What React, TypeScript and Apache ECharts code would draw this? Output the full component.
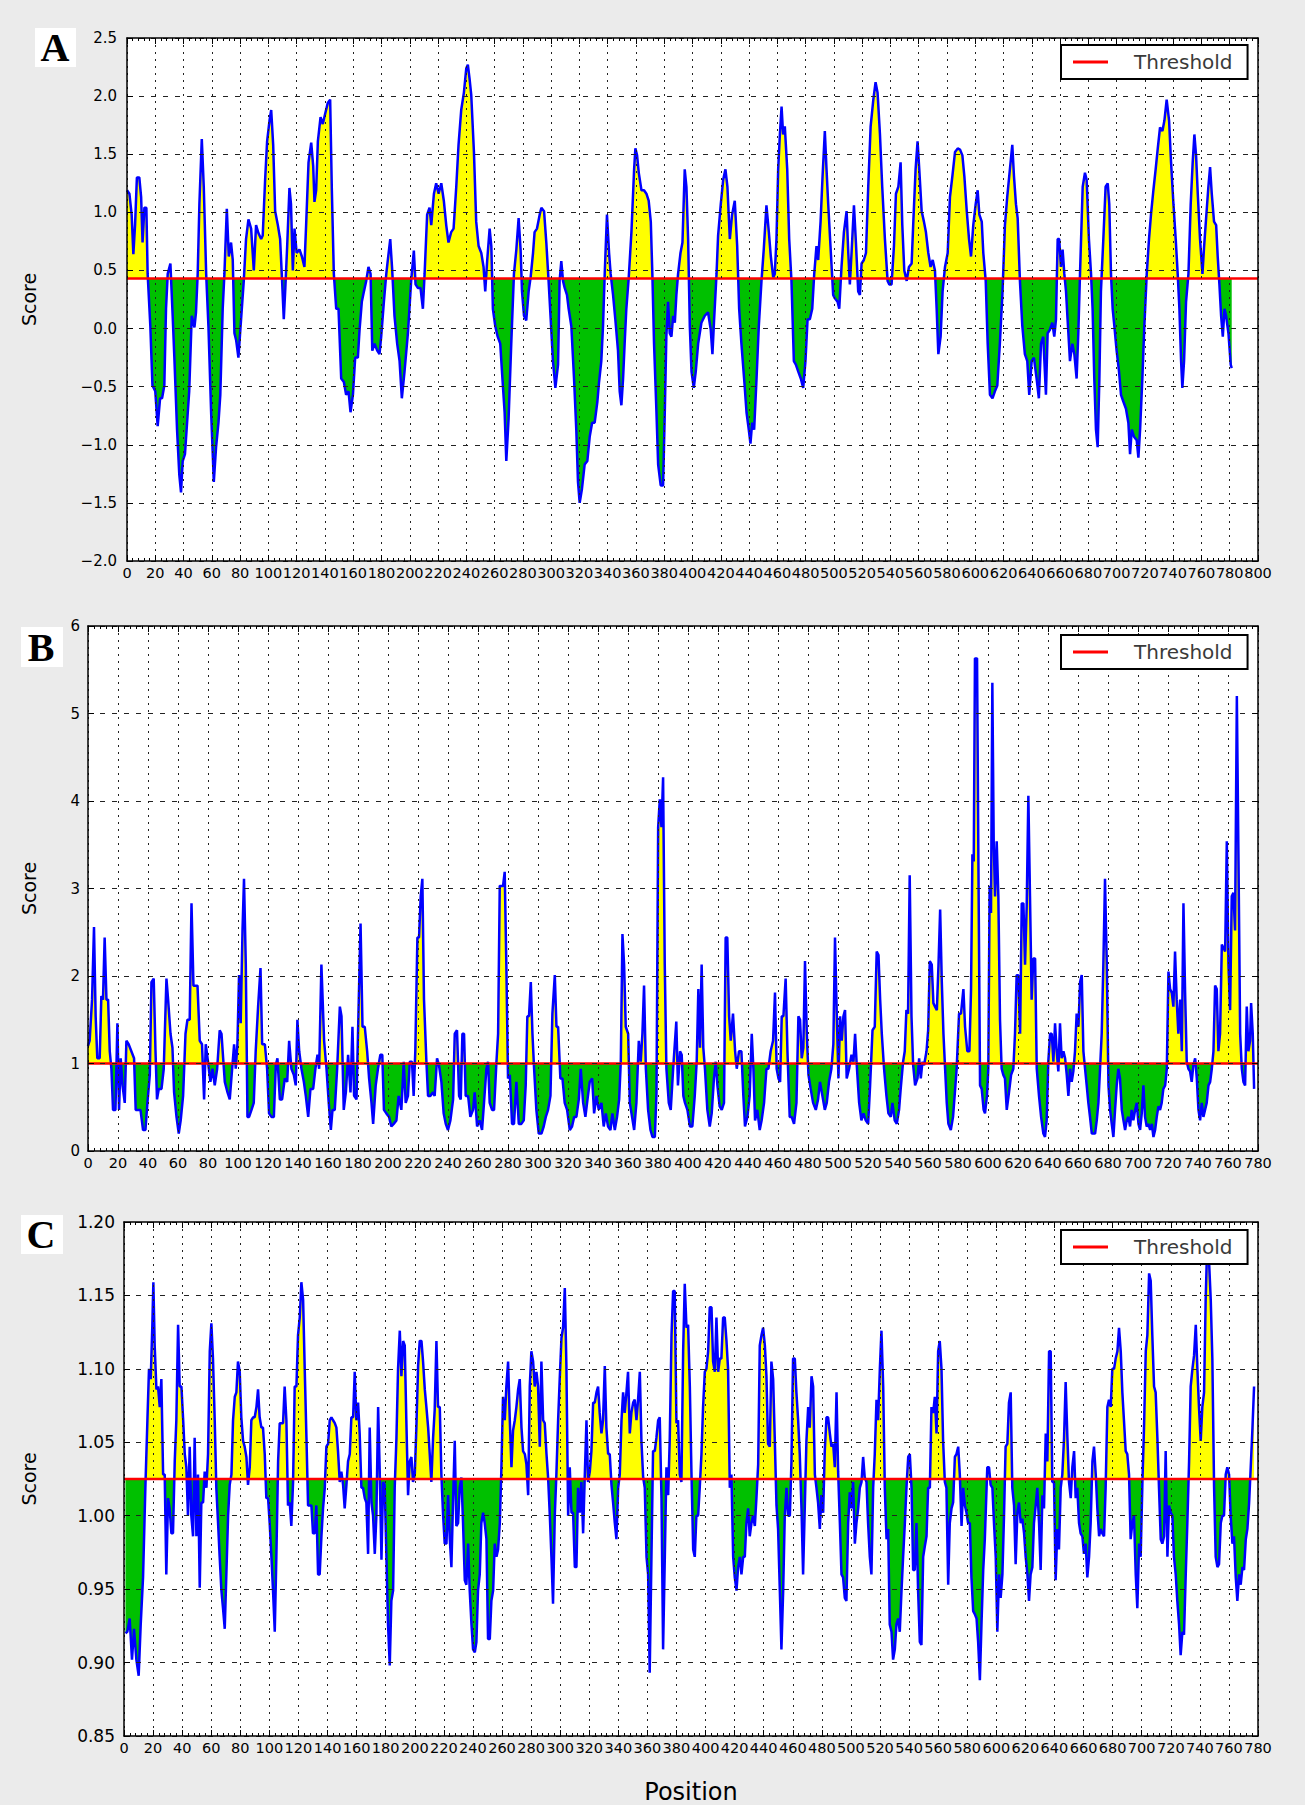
import React, { useEffect, useRef } from "react";
import * as echarts from "echarts";

// ---------- data ----------
const thresholdA = 0.43;
const thresholdB = 1.0;
const thresholdC = 1.025;

// [position, score]
const scoresA: number[][] = [
[0,1.19],[1.7,1.16],[3.3,0.98],[4.5,0.64],[5.7,0.89],[7,1.30],[8.7,1.30],[10,1.13],[11,0.74],[12.3,1.04],[13.7,1.04],[14.6,0.47],[16.5,0.02],[18,-0.49],[20,-0.54],[21.7,-0.84],[23.4,-0.60],[24.8,-0.60],[26.4,-0.49],[27.6,0.17],[28.8,0.47],[30.7,0.56],[32.3,0.11],[33.5,-0.25],[35.4,-0.87],[37,-1.26],[38.2,-1.41],[39.4,-1.14],[41,-1.08],[43,-0.72],[44,-0.54],[45.8,0.11],[47.7,0.01],[48.8,0.14],[50,0.47],[51.2,1.07],[52.9,1.63],[54.3,1.22],[56,0.47],[57.6,0.02],[59.5,-0.72],[61.4,-1.32],[63,-1.02],[64.7,-0.81],[66,-0.57],[67.7,0.17],[68.9,0.47],[70.6,1.03],[72,0.62],[73.6,0.74],[74.8,0.59],[76,-0.04],[77.2,-0.10],[78.8,-0.25],[80.7,0.08],[82.6,0.41],[84.2,0.77],[85.9,0.94],[87.8,0.86],[89.7,0.50],[91.3,0.89],[93,0.82],[94.9,0.77],[96,0.80],[97.7,1.28],[99.1,1.61],[100.8,1.79],[102,1.88],[103.4,1.58],[104.8,1.01],[106.7,0.89],[108.3,0.77],[109.7,0.41],[110.9,0.08],[112,0.35],[113.3,0.71],[114.9,1.21],[116,1.07],[117.3,0.50],[118.5,0.86],[120,0.65],[122,0.68],[123.7,0.62],[125.5,0.53],[126.7,0.89],[128.4,1.43],[130.3,1.60],[131.7,1.40],[132.6,1.09],[133.8,1.19],[135,1.61],[136.9,1.82],[138.5,1.76],[140.2,1.85],[142,1.94],[143.7,1.97],[144.9,1.19],[146.3,0.47],[148,0.17],[149.6,0.17],[151.5,-0.43],[153.4,-0.46],[155,-0.57],[156.7,-0.54],[158.1,-0.72],[159.8,-0.57],[161.4,-0.25],[163.3,-0.25],[164.5,-0.01],[166.1,0.23],[167.6,0.32],[169.2,0.41],[170.8,0.53],[172.3,0.47],[173.5,-0.19],[175.1,-0.13],[177,-0.19],[178.6,-0.22],[179.8,-0.07],[181.7,0.23],[183.4,0.47],[184.5,0.59],[186.2,0.77],[187.6,0.50],[189.2,0.11],[191.1,-0.13],[192.8,-0.28],[194.4,-0.60],[196.3,-0.37],[198.7,-0.04],[201,0.41],[202.9,0.67],[204.1,0.38],[205.7,0.35],[207.6,0.35],[209.3,0.17],[210.5,0.47],[212.3,0.98],[214,1.04],[215.2,0.89],[217.1,1.16],[218.7,1.25],[220.4,1.16],[222.3,1.25],[224.1,1.10],[225.8,0.89],[227.4,0.74],[229.3,0.83],[231,0.86],[232.9,1.22],[234.5,1.58],[236.4,1.88],[238.3,2.03],[240,2.24],[241.1,2.27],[242.3,2.15],[243.5,2.01],[245.4,1.52],[247,0.92],[248.7,0.71],[250.6,0.65],[252.2,0.53],[253.4,0.32],[254.8,0.59],[256.5,0.86],[257.7,0.71],[258.8,0.17],[260.5,0.02],[262.2,-0.07],[264,-0.13],[265.4,-0.40],[267.1,-0.72],[268.3,-1.14],[269.9,-0.78],[271.8,-0.13],[273.7,0.47],[275.4,0.68],[277,0.95],[278.4,0.68],[279.4,0.32],[280.8,0.11],[282.4,0.07],[284.1,0.32],[285.5,0.44],[287.2,0.65],[288.3,0.83],[290,0.86],[291.9,0.98],[293.1,1.04],[295,1.01],[296.6,0.74],[298.2,0.41],[299.7,0.08],[301.3,-0.28],[303,-0.51],[304.9,-0.31],[306,0.41],[307.2,0.58],[308.4,0.41],[309.6,0.35],[311.2,0.29],[312.4,0.17],[314.3,0.02],[316.2,-0.43],[317.8,-0.87],[319,-1.32],[320.2,-1.50],[321.8,-1.38],[323.7,-1.17],[325.6,-1.14],[327.3,-0.93],[329,-0.81],[330.8,-0.81],[332.7,-0.63],[333.9,-0.46],[335.5,-0.28],[336.7,0.02],[337.9,0.47],[339.5,0.98],[341,0.65],[342.1,0.47],[343.8,0.29],[345.4,0.08],[347.3,-0.19],[348.5,-0.54],[349.7,-0.66],[350.9,-0.43],[352,-0.13],[353.2,0.17],[354.9,0.44],[356.8,0.83],[358.7,1.37],[359.6,1.55],[360.8,1.49],[362,1.34],[363.9,1.19],[365.7,1.19],[367.4,1.16],[369,1.10],[370.5,0.92],[371.6,0.47],[372.8,-0.13],[374.5,-0.72],[375.7,-1.17],[377.5,-1.35],[379.2,-1.35],[380.4,-0.72],[381.5,-0.07],[382.7,0.23],[383.9,-0.04],[385.1,-0.07],[386.3,0.11],[387.5,0.05],[388.6,0.29],[389.8,0.47],[391.5,0.65],[392.9,0.74],[394.5,1.37],[395.7,1.22],[396.9,0.77],[398.1,0.02],[399.3,-0.37],[400.9,-0.51],[402.3,-0.37],[404,-0.13],[406.3,0.05],[408.7,0.11],[411,0.14],[412.9,-0.01],[414.1,-0.22],[415.3,0.08],[417,0.47],[418.1,0.80],[420,1.07],[421.7,1.28],[423.3,1.37],[424.7,1.22],[426.4,0.77],[428,0.98],[429.9,1.10],[431.6,0.71],[433,0.17],[434.6,-0.13],[436.5,-0.43],[438.2,-0.72],[439.8,-0.87],[441,-0.99],[442.2,-0.81],[443.6,-0.87],[445.3,-0.43],[446.9,0.02],[448.8,0.41],[450.4,0.68],[452.3,1.06],[454,0.83],[455.4,0.62],[457.1,0.44],[458.2,0.47],[459.4,0.77],[460.6,1.37],[461.8,1.67],[463,1.91],[464.1,1.67],[465.3,1.74],[467,1.37],[468.4,0.77],[470,0.41],[471.7,-0.28],[473.1,-0.31],[474.8,-0.37],[476.6,-0.43],[478.3,-0.51],[479.9,-0.28],[481.4,0.08],[483,0.08],[484.7,0.17],[486.1,0.47],[487.7,0.71],[488.9,0.59],[490.6,0.92],[492,1.31],[493.6,1.70],[494.8,1.37],[496,1.07],[497.6,0.71],[499.5,0.29],[500.7,0.26],[502.6,0.23],[503.8,0.17],[505.4,0.53],[507.1,0.83],[509,1.01],[510.2,0.65],[511.3,0.38],[512.5,0.65],[514.2,1.06],[515.6,0.74],[517.2,0.32],[518.4,0.29],[519.6,0.56],[521.2,0.59],[522.7,0.65],[524.3,1.22],[526,1.74],[527.9,1.97],[529.5,2.12],[530.9,2.03],[532.6,1.67],[534.2,1.22],[536.1,0.77],[538,0.41],[539.2,0.38],[540.8,0.38],[542.5,0.71],[543.9,1.16],[545.6,1.22],[547.2,1.43],[548.4,0.89],[549.8,0.50],[551.5,0.41],[553.1,0.53],[555,0.56],[556.2,0.92],[557.8,1.37],[559.2,1.61],[560.4,1.37],[562.1,1.01],[563.7,0.92],[565.1,0.83],[566.8,0.65],[568.4,0.53],[569.9,0.59],[571.5,0.50],[572.7,0.17],[573.9,-0.22],[575.5,-0.07],[576.9,0.32],[578.6,0.53],[580.5,0.65],[582.1,1.13],[583.8,1.31],[585.7,1.52],[587.6,1.55],[589.2,1.54],[590.9,1.49],[592.3,1.31],[594,1.01],[595.6,0.77],[597,0.62],[598.6,0.89],[600.3,1.07],[601.7,1.19],[602.9,0.98],[604.6,0.92],[605.7,0.65],[607.4,0.41],[608.8,-0.13],[610.4,-0.57],[612.2,-0.60],[613.9,-0.54],[615.6,-0.49],[617.4,-0.13],[619.3,0.32],[621,0.89],[622.6,1.13],[624.5,1.37],[626.2,1.58],[627.4,1.31],[628.8,1.07],[630,0.95],[631.6,0.41],[633.3,0.02],[635.1,-0.22],[636.8,-0.28],[638.2,-0.57],[639.9,-0.28],[641.5,-0.25],[643.4,-0.43],[645,-0.60],[646.5,-0.13],[648.1,-0.07],[650,-0.57],[651.2,-0.04],[652.8,-0.01],[654.5,0.05],[655.9,-0.07],[657.1,0.08],[658.3,0.77],[659.4,0.77],[660.6,0.53],[661.8,0.68],[663,0.47],[664.2,0.32],[665.3,0.08],[667,-0.28],[668.7,-0.13],[670.1,-0.22],[671.7,-0.43],[672.9,-0.04],[674.1,0.47],[676,1.22],[677.6,1.34],[678.8,1.28],[680.4,0.77],[681.9,0.47],[683,0.17],[684.2,-0.43],[685.4,-0.87],[686.6,-1.02],[687.8,-0.43],[688.9,0.32],[690.6,0.77],[692.2,1.22],[693.7,1.25],[694.8,1.07],[696,0.47],[697.2,0.17],[698.4,0.02],[700,-0.19],[701.7,-0.37],[703.1,-0.57],[704.8,-0.63],[706.6,-0.69],[708.3,-0.81],[709.5,-1.08],[710.7,-0.87],[712.3,-0.93],[714.2,-0.96],[715.4,-1.11],[716.6,-0.87],[718.2,-0.43],[719.6,0.02],[721.3,0.47],[722.9,0.77],[724.3,0.98],[726,1.19],[727.6,1.37],[729.1,1.55],[730.7,1.73],[732.4,1.70],[733.8,1.79],[735.4,1.97],[737.1,1.79],[738.5,1.43],[740.2,1.07],[741.8,0.77],[743.2,0.47],[744.4,0.17],[745.6,-0.28],[746.5,-0.51],[747.7,-0.28],[749.1,0.23],[750.8,0.47],[752.4,1.07],[753.8,1.43],[755,1.67],[756.2,1.49],[757.4,1.16],[759,0.77],[760.7,0.47],[761.9,0.71],[763.3,0.95],[764.9,1.22],[766.1,1.39],[767.3,1.16],[768.9,0.92],[770.4,0.89],[771.5,0.62],[772.7,0.38],[773.9,0.11],[775.1,-0.07],[776.3,0.17],[777.4,0.11],[779.1,-0.04],[780.7,-0.31],[781.4,-0.34]
];

const scoresB: number[][] = [
[0,1.2],[1.1,1.26],[2.7,1.73],[4,2.56],[5.1,1.54],[6.2,1.06],[7.8,1.06],[8.9,1.77],[10,1.73],[11.1,2.44],[12.3,1.73],[13.4,1.73],[14.5,1.14],[15.6,0.94],[16.7,0.47],[18.3,0.47],[19.6,1.46],[20.7,0.47],[21.8,1.06],[23,0.75],[24.5,0.55],[25.6,1.26],[27.1,1.22],[28.9,1.14],[30.7,1.06],[31.8,0.47],[33.4,0.47],[35,0.47],[36.7,0.24],[38.3,0.24],[39.6,0.55],[41.2,0.87],[42.3,1.93],[43.8,1.97],[45,1.14],[46,0.59],[47.2,0.71],[49,0.71],[50.5,0.94],[52.3,1.97],[53.4,1.73],[55,1.34],[56.3,1.18],[57.4,0.67],[59,0.39],[60.5,0.20],[61.8,0.35],[63.4,0.63],[65,1.34],[66.3,1.50],[67.8,1.50],[69,2.83],[70.3,1.89],[71.8,1.89],[73,1.89],[74.5,1.26],[76,1.22],[77.4,0.59],[78.5,1.22],[80,1.02],[81.6,0.79],[83,0.94],[84.5,0.75],[86.1,0.94],[87.8,1.38],[89,1.34],[90.1,1.06],[91.2,0.79],[93,0.67],[94.5,0.59],[96.1,0.94],[97.4,1.22],[98.5,0.94],[99.6,1.22],[100.7,2.01],[101.8,1.46],[103,2.52],[104,3.11],[105.2,2.13],[106.3,0.39],[107.4,0.39],[109,0.47],[110.5,0.55],[111.8,1.14],[113.4,1.65],[115,2.09],[116.1,1.22],[117.9,1.22],[119.4,0.94],[120.7,0.43],[122.3,0.39],[123.9,0.39],[125.2,0.98],[126.3,1.06],[127.9,0.59],[129.4,0.59],[131.2,0.83],[132.8,0.79],[134.1,1.26],[135.6,0.94],[137.2,0.87],[138.5,0.75],[139.6,1.50],[140.8,1.14],[142.3,0.94],[143.9,0.79],[145.2,0.63],[146.8,0.39],[148.3,0.71],[150.1,0.71],[151.6,0.94],[153,1.10],[154.1,0.94],[155.6,2.13],[157.4,1.26],[159,0.94],[160.5,0.55],[161.9,0.24],[163,0.47],[164.5,0.47],[166.1,0.94],[167.9,1.65],[169,1.54],[170.5,0.47],[171.9,0.67],[173.4,1.10],[175,0.67],[176.3,1.42],[177.4,0.63],[179,0.59],[180.1,1.42],[181.7,2.60],[183,1.42],[184.5,1.42],[186.1,1.14],[187.4,0.83],[189,0.55],[190.1,0.31],[191.8,0.75],[193.3,0.94],[194.9,1.10],[196.2,1.10],[197.3,0.47],[198.9,0.43],[200.7,0.39],[202.2,0.28],[203.8,0.31],[205.6,0.35],[207.1,0.63],[208.9,0.47],[210.5,1.02],[211.8,0.55],[213.3,0.63],[214.5,1.02],[216,1.02],[217.1,0.63],[218.2,1.14],[219.6,2.44],[220.7,2.44],[221.8,2.91],[222.9,3.11],[224,1.73],[225.6,1.02],[226.7,0.63],[228.2,0.63],[230,0.67],[231.1,0.63],[232.7,1.06],[234,0.98],[235.6,0.79],[237.1,0.43],[238.5,0.31],[240,0.24],[241.6,0.35],[243.4,0.59],[244.5,1.34],[246,1.38],[247.4,0.63],[248.5,0.59],[249.6,1.34],[250.7,1.34],[251.8,0.63],[253.4,0.63],[254.9,0.39],[256.7,0.47],[257.8,0.67],[259.4,0.28],[261.1,0.35],[262.7,0.24],[264,0.55],[265.6,0.94],[266.7,1.02],[267.8,0.55],[269.4,0.47],[270.7,0.47],[272.3,1.02],[273.4,1.34],[274.5,3.03],[275.6,3.03],[276.7,3.03],[277.8,3.19],[278.9,2.13],[280,0.83],[281.2,0.87],[282.7,0.31],[284,0.31],[285.6,0.79],[287.2,0.31],[288.9,0.31],[290.5,0.35],[291.8,0.75],[292.9,1.54],[294,1.54],[295.2,1.93],[296.3,1.34],[297.4,0.94],[298.9,0.47],[300.5,0.20],[302.3,0.20],[303.8,0.28],[305.2,0.39],[306.7,0.47],[308.3,0.63],[309.6,1.57],[311.2,2.01],[312.3,1.42],[313.4,1.42],[314.9,0.83],[316.3,0.83],[317.8,0.55],[319.4,0.47],[321.2,0.24],[322.7,0.28],[324.1,0.39],[325.6,0.39],[327.2,0.59],[328.5,0.94],[330.1,0.55],[331.6,0.39],[333,0.59],[334.5,0.79],[336.1,0.83],[337.4,0.43],[339,0.63],[340.5,0.47],[342.3,0.55],[343.8,0.28],[345.2,0.43],[346.7,0.28],[348.3,0.24],[349.6,0.43],[351.2,0.24],[352.7,0.39],[354.1,0.59],[355.2,1.02],[356.3,2.48],[357.4,2.13],[358.5,1.42],[360.1,1.34],[361.2,0.55],[362.7,0.39],[364.1,0.24],[365.6,0.55],[367.2,1.26],[368.5,1.02],[369.6,1.34],[370.7,1.89],[371.9,0.94],[373.4,0.47],[375,0.24],[376.3,0.16],[377.9,0.16],[379,0.67],[380.1,3.70],[381.2,4.02],[382.3,3.70],[383.4,4.27],[384.5,2.13],[385.6,0.94],[387.2,0.55],[388.5,0.47],[390.1,0.94],[392.2,1.48],[393.3,0.75],[394.7,1.14],[395.8,1.10],[396.9,0.63],[398,0.55],[399.6,0.47],[401.3,0.28],[402.9,0.28],[404.5,0.63],[405.8,1.02],[406.9,1.85],[408,1.18],[409.1,2.13],[410.2,1.18],[411.3,0.94],[412.9,0.47],[414.5,0.28],[415.8,0.43],[417.3,0.83],[418.5,1.02],[419.6,0.75],[421.1,0.51],[422.5,0.47],[424,0.55],[425.1,2.44],[426.2,2.44],[427.4,1.54],[428.5,1.26],[430,1.57],[431.4,1.14],[432.5,0.94],[434,1.14],[435.6,1.14],[436.9,0.63],[438,0.28],[439.6,0.39],[441.1,0.63],[442.5,1.34],[443.6,0.94],[444.7,0.35],[446.2,0.47],[447.8,0.24],[449.1,0.35],[450.7,0.55],[452.3,0.94],[453.6,0.94],[455.1,1.14],[456.7,1.26],[458,1.81],[459.1,0.94],[460.3,0.83],[461.4,0.79],[462.5,1.54],[463.6,1.54],[465.1,1.97],[466.3,1.14],[467.8,0.39],[469.1,0.39],[470.7,0.31],[472.3,0.55],[473.6,1.54],[474.7,1.50],[475.8,1.06],[476.9,1.18],[478,2.17],[479.2,1.34],[480.3,0.87],[481.8,0.71],[483.4,0.55],[485.2,0.47],[486.7,0.59],[488,0.79],[489.6,0.63],[491.2,0.47],[492.5,0.55],[494,0.79],[495.6,0.94],[496.9,1.22],[498,2.44],[499.2,1.54],[500.3,0.83],[501.4,1.54],[502.5,1.26],[503.6,1.54],[504.7,1.61],[505.8,0.83],[507.4,0.94],[509,1.10],[510.3,1.02],[511.4,1.34],[512.5,0.98],[514.1,0.55],[515.6,0.35],[517,0.43],[518.5,0.35],[520.1,0.31],[521.4,0.75],[523,1.38],[524.5,1.42],[525.8,2.28],[527,2.24],[528.1,1.73],[529.2,1.34],[530.7,0.94],[532.3,0.63],[533.6,0.43],[535.2,0.39],[536.3,0.55],[537.8,0.35],[539.2,0.31],[540.7,0.47],[541.8,0.71],[543.4,1.02],[544.5,1.14],[545.6,1.61],[546.7,1.57],[547.8,3.15],[549,1.54],[550.1,0.98],[551.4,0.75],[553,0.83],[554.1,1.06],[555.2,0.83],[556.3,1.02],[557.4,0.98],[559,1.14],[560.1,1.38],[561.2,2.17],[562.5,2.13],[563.6,1.69],[564.7,1.65],[565.9,1.61],[567,2.13],[568.1,2.76],[569.2,1.93],[570.3,1.34],[571.4,0.94],[572.5,0.55],[573.6,0.31],[575.2,0.24],[576.7,0.39],[578.1,0.71],[579.1,0.94],[580.7,1.57],[582,1.57],[583.6,1.85],[584.7,1.42],[586.2,1.14],[587.6,1.14],[588.7,1.85],[589.6,3.39],[590.5,3.31],[591.3,5.63],[592.7,5.63],[593.6,3.31],[594.7,0.75],[595.8,0.71],[597.1,0.47],[598,0.43],[599.3,0.63],[600.2,0.94],[601.1,3.03],[602,2.72],[602.9,5.35],[603.8,3.54],[604.7,2.91],[605.8,3.54],[606.9,2.91],[608,1.50],[609.1,0.94],[610.2,0.87],[611.3,0.83],[612.5,0.47],[614,0.67],[615.4,0.87],[616.9,0.94],[618,1.34],[619.1,2.01],[620.2,2.01],[621.4,1.34],[622.5,2.83],[623.6,2.83],[624.7,2.13],[625.8,2.80],[626.9,4.06],[628,2.91],[629.1,1.73],[630.2,2.20],[631.4,2.20],[632.5,0.94],[634,0.63],[635.4,0.39],[636.9,0.20],[638,0.16],[639.1,0.35],[640.2,1.02],[641.4,1.34],[642.5,1.34],[643.6,1.02],[644.7,1.46],[645.8,1.14],[646.9,0.91],[648,1.46],[649.1,1.06],[650.3,1.14],[651.4,1.06],[652.5,0.87],[653.6,0.63],[654.7,0.94],[655.8,0.79],[656.9,0.91],[658,1.14],[659.1,1.57],[660.3,1.42],[661.4,1.93],[662.5,2.01],[663.6,1.14],[664.7,0.94],[665.8,0.75],[666.9,0.55],[668,0.39],[669.2,0.20],[670.3,0.20],[671.4,0.20],[672.5,0.35],[673.6,0.55],[674.7,0.94],[675.8,1.34],[676.9,2.13],[678,3.11],[679.2,2.13],[680.3,0.75],[681.4,0.47],[682.5,0.31],[683.6,0.16],[684.7,0.47],[685.8,0.75],[686.9,0.94],[688,0.83],[689.2,0.47],[690.3,0.35],[691.4,0.24],[692.5,0.35],[693.6,0.39],[694.7,0.28],[695.8,0.47],[696.9,0.35],[698.1,0.47],[699.2,0.55],[700.3,0.31],[701.4,0.24],[702.5,0.43],[703.6,0.75],[704.7,0.39],[705.8,0.28],[706.9,0.31],[708.1,0.24],[709.2,0.31],[710.3,0.16],[711.4,0.24],[712.5,0.39],[713.6,0.51],[714.7,0.47],[715.8,0.55],[716.9,0.71],[718.1,0.75],[719.2,0.94],[720.3,2.05],[721.4,1.85],[722.5,1.81],[723.6,1.65],[724.7,2.28],[725.8,1.73],[726.9,1.34],[728.1,1.73],[729.2,1.14],[730.3,2.83],[731.4,1.81],[732.5,1.02],[733.6,0.94],[734.7,0.91],[735.8,0.79],[736.9,0.98],[738.1,1.06],[739.2,0.83],[740.3,0.47],[741.4,0.35],[742.5,0.55],[743.6,0.39],[744.7,0.47],[745.8,0.55],[747,0.75],[748.1,0.79],[749.2,0.94],[750.3,1.14],[751.4,1.89],[752.5,1.85],[753.6,1.14],[754.7,1.34],[755.9,2.36],[757,2.32],[758.1,2.28],[759.2,3.54],[760.3,2.13],[761.4,1.61],[762.5,2.91],[763.6,2.95],[764.7,2.52],[765.9,5.20],[767,3.31],[768.1,1.34],[769.2,0.94],[770.3,0.79],[771.4,0.75],[772.5,1.65],[773.6,1.14],[774.7,1.26],[775.4,1.69],[776.5,1.34],[777.4,0.71]
];

const scoresC: number[][] = [
[1,0.92],[2.3,0.921],[3.9,0.930],[5.5,0.902],[6.9,0.923],[8.5,0.902],[10.1,0.891],[11.5,0.926],[13.1,0.958],[14.7,1.019],[16.1,1.065],[17.2,1.100],[18.4,1.093],[19.5,1.130],[20.2,1.159],[21.1,1.116],[22.3,1.086],[23.4,1.088],[24.6,1.074],[25.7,1.093],[26.9,1.028],[28,1.028],[29.1,0.960],[30.3,1.012],[31.4,1.005],[32.6,0.988],[33.7,0.988],[34.9,1.037],[36,1.065],[37.2,1.130],[38.3,1.088],[39.5,1.088],[40.6,1.067],[41.8,1.042],[42.9,1.033],[44,1.000],[45.2,1.047],[46.3,1.000],[47.5,0.986],[48.6,1.053],[49.8,0.986],[50.9,1.028],[52.1,0.951],[53.2,1.009],[54.4,1.009],[55.5,1.030],[56.7,1.019],[57.8,1.042],[59,1.112],[60.1,1.131],[61.2,1.107],[62.4,1.065],[63.5,1.019],[64.7,0.995],[65.8,0.972],[67,0.949],[68.1,0.937],[69.3,0.923],[70.4,0.960],[71.6,1.000],[72.7,1.021],[73.9,1.028],[75,1.065],[76.2,1.081],[77.3,1.084],[78.4,1.105],[79.6,1.098],[80.7,1.067],[81.9,1.051],[83,1.047],[84.2,1.040],[85.3,1.021],[86.5,1.033],[87.6,1.065],[88.8,1.067],[89.9,1.067],[91.1,1.074],[92.2,1.086],[93.3,1.067],[94.5,1.060],[95.6,1.060],[96.8,1.042],[97.9,1.012],[99.1,1.012],[100.2,0.995],[101.4,0.972],[102.5,0.949],[103.7,0.921],[104.8,0.972],[106,1.037],[107.1,1.063],[108.3,1.063],[109.4,1.063],[110.5,1.088],[111.7,1.065],[112.8,1.007],[114,1.009],[115.1,0.993],[116.3,1.023],[117.4,1.088],[118.6,1.088],[119.7,1.123],[120.9,1.135],[122,1.159],[123.2,1.147],[124.3,1.100],[125.5,1.053],[126.6,1.007],[127.7,1.007],[128.9,1.007],[130,0.988],[131.2,0.988],[132.3,1.007],[133.5,0.960],[134.6,0.960],[135.8,0.986],[136.9,1.005],[138.1,1.019],[139.2,1.047],[140.4,1.049],[141.5,1.065],[142.7,1.067],[143.8,1.065],[145,1.063],[146.1,1.060],[147.2,1.044],[148.4,1.023],[149.5,1.030],[150.7,1.021],[151.8,1.005],[153,1.021],[154.1,1.037],[155.3,1.042],[156.4,1.067],[157.6,1.067],[158.7,1.098],[159.8,1.065],[161,1.077],[162.1,1.056],[163.3,1.019],[164.4,1.019],[165.6,1.012],[166.7,1.009],[167.9,0.974],[169,1.060],[170.2,1.009],[171.3,1.000],[172.5,0.974],[173.6,1.000],[174.8,1.074],[175.9,1.030],[177.1,0.970],[178.2,1.023],[179.3,1.021],[180.5,0.972],[181.6,0.926],[182.8,0.898],[183.9,0.942],[185.1,0.949],[186.2,1.019],[187.4,1.053],[188.5,1.100],[189.7,1.126],[190.8,1.095],[192,1.119],[193.1,1.116],[194.2,1.065],[195.4,1.014],[196.5,1.037],[197.7,1.040],[198.8,1.023],[200,1.028],[201.1,1.060],[202.3,1.102],[203.4,1.119],[204.6,1.119],[205.7,1.105],[206.9,1.086],[208,1.074],[209.2,1.060],[210.3,1.042],[211.4,1.023],[212.6,1.053],[213.7,1.072],[214.9,1.119],[216,1.074],[217.2,1.074],[218.3,1.028],[219.5,1.000],[220.6,0.981],[221.8,0.981],[222.9,1.014],[224.1,0.984],[225.2,0.965],[226.3,1.009],[227.5,1.051],[228.6,0.993],[229.8,0.995],[230.9,1.019],[232.1,1.026],[233.2,0.995],[234.4,0.956],[235.5,0.953],[236.7,0.981],[237.8,0.949],[239,0.926],[240.1,0.909],[241.3,0.907],[242.4,0.914],[243.5,0.949],[244.7,0.960],[245.8,0.995],[247,1.002],[248.1,0.995],[249.3,0.984],[250.4,0.916],[251.6,0.916],[252.7,0.942],[253.9,0.949],[255,0.981],[256.2,0.972],[257.3,0.977],[258.5,0.995],[259.6,1.033],[260.7,1.081],[261.9,1.065],[263,1.088],[264.2,1.105],[265.3,1.067],[266.5,1.033],[267.6,1.058],[268.8,1.065],[269.9,1.074],[271.1,1.086],[272.2,1.093],[273.4,1.060],[274.5,1.044],[275.7,1.042],[276.8,1.035],[278,1.014],[279.1,1.088],[280.2,1.112],[281.4,1.105],[282.5,1.088],[283.7,1.098],[284.8,1.088],[286,1.047],[287.1,1.105],[288.3,1.065],[289.4,1.063],[290.6,1.042],[291.7,1.026],[292.9,1.000],[294,0.972],[295.1,0.940],[296.3,1.000],[297.4,1.028],[298.6,1.065],[299.7,1.093],[300.9,1.121],[302,1.128],[303.2,1.155],[304.3,1.102],[305.5,1.000],[306.6,1.033],[307.8,1.002],[308.9,1.002],[310.1,0.965],[311.2,0.965],[312.3,1.019],[313.5,1.002],[314.6,1.023],[315.8,0.988],[316.9,1.026],[318.1,1.065],[319.2,1.023],[320.4,1.030],[321.5,1.044],[322.7,1.077],[323.8,1.077],[325,1.084],[326.1,1.088],[327.2,1.070],[328.4,1.056],[329.5,1.065],[330.7,1.102],[331.8,1.060],[333,1.042],[334.1,1.042],[335.3,1.021],[336.4,1.009],[337.6,0.995],[338.7,0.984],[339.9,1.019],[341,1.028],[342.2,1.065],[343.3,1.084],[344.4,1.070],[345.6,1.084],[346.7,1.098],[347.9,1.056],[349,1.070],[350.2,1.077],[351.3,1.079],[352.5,1.065],[353.6,1.079],[354.8,1.098],[355.9,1.051],[357.1,1.026],[358.2,1.019],[359.4,0.972],[360.5,0.960],[361.6,0.893],[362.8,0.972],[363.9,1.044],[365.1,1.044],[366.2,1.053],[367.4,1.065],[368.5,1.067],[369.7,1.012],[370.8,0.909],[372,0.972],[373.1,1.033],[374.3,1.014],[375.4,1.053],[376.6,1.123],[377.7,1.153],[378.8,1.153],[380,1.063],[381.1,1.065],[382.3,1.028],[383.4,1.023],[384.6,1.112],[385.7,1.158],[386.9,1.128],[388,1.130],[389.2,1.088],[390.3,1.030],[391.5,0.977],[392.6,0.972],[393.7,1.000],[394.9,1.000],[396,1.019],[397.2,1.042],[398.3,1.074],[399.5,1.098],[400.6,1.100],[401.8,1.112],[402.9,1.142],[404.1,1.142],[405.2,1.105],[406.4,1.098],[407.5,1.135],[408.7,1.098],[409.8,1.107],[410.9,1.107],[412.1,1.135],[413.2,1.135],[414.4,1.119],[415.5,1.100],[416.7,1.019],[417.8,1.028],[419,0.972],[420.1,0.958],[421.3,0.949],[422.4,0.965],[423.6,0.972],[424.7,0.960],[425.9,0.972],[427,0.972],[428.1,0.995],[429.3,1.005],[430.4,0.986],[431.6,0.995],[432.7,1.000],[433.9,0.993],[435,1.012],[436.2,1.035],[437.3,1.116],[438.5,1.123],[439.6,1.128],[440.8,1.116],[441.9,1.095],[443,1.049],[444.2,1.047],[445.3,1.105],[446.5,1.093],[447.6,1.053],[448.8,1.007],[449.9,0.991],[451.1,0.949],[452.2,0.909],[453.4,0.949],[454.5,1.000],[455.7,1.019],[456.8,1.000],[458,1.000],[459.1,1.037],[460.2,1.107],[461.4,1.107],[462.5,1.084],[463.7,1.065],[464.8,1.042],[466,1.005],[467.1,0.960],[468.3,1.007],[469.4,1.051],[470.6,1.074],[471.7,1.060],[472.9,1.095],[474,1.088],[475.2,1.028],[476.3,1.019],[477.4,1.009],[478.6,0.991],[479.7,1.014],[480.9,1.002],[482,1.044],[483.2,1.067],[484.3,1.067],[485.5,1.056],[486.6,1.047],[487.8,1.049],[488.9,1.033],[490.1,1.084],[491.2,1.030],[492.4,0.995],[493.5,0.960],[494.6,0.958],[495.8,0.944],[496.9,0.942],[498.1,0.995],[499.2,1.016],[500.4,1.005],[501.5,1.023],[502.7,0.981],[503.8,0.995],[505,1.005],[506.1,1.019],[507.3,1.023],[508.4,1.040],[509.5,1.026],[510.7,1.023],[511.8,0.995],[513,0.972],[514.1,0.960],[515.3,1.019],[516.4,1.042],[517.6,1.079],[518.7,1.065],[519.9,1.100],[521,1.126],[522.2,1.088],[523.3,1.019],[524.5,0.984],[525.6,0.991],[526.7,0.926],[527.9,0.921],[529,0.902],[530.2,0.909],[531.3,0.926],[532.5,0.930],[533.6,0.921],[534.8,0.949],[535.9,0.972],[537.1,0.995],[538.2,1.019],[539.4,1.040],[540.5,1.042],[541.7,1.019],[542.8,0.963],[543.9,0.963],[545.1,0.995],[546.2,0.949],[547.4,0.914],[548.5,0.912],[549.7,0.972],[550.8,0.979],[552,0.986],[553.1,1.019],[554.3,1.019],[555.4,1.074],[556.6,1.070],[557.7,1.081],[558.9,1.056],[560,1.112],[561.1,1.119],[562.3,1.100],[563.4,1.051],[564.6,1.023],[565.7,1.019],[566.9,0.953],[568,0.995],[569.2,1.005],[570.3,1.009],[571.5,1.040],[572.6,1.042],[573.8,1.047],[574.9,1.028],[576.1,0.993],[577.2,1.019],[578.4,1.007],[579.5,1.002],[580.6,0.995],[581.8,0.995],[582.9,0.958],[584.1,0.935],[585.2,0.933],[586.4,0.930],[587.5,0.914],[588.7,0.888],[589.8,0.926],[591,0.963],[592.1,0.984],[593.8,1.033],[595,1.033],[596.1,1.021],[597.3,1.019],[598.4,0.995],[599.6,0.972],[600.7,0.921],[601.9,0.960],[603,0.944],[604.2,0.960],[605.3,1.000],[606.4,1.047],[607.6,1.049],[608.7,1.077],[609.9,1.084],[611,1.019],[612.2,1.007],[613.3,0.967],[614.5,1.002],[615.6,1.009],[616.8,0.995],[617.9,0.998],[619.1,0.988],[620.2,0.972],[621.4,0.960],[622.5,0.942],[623.6,0.960],[624.8,0.965],[625.9,0.995],[627.1,1.007],[628.2,1.019],[629.4,0.995],[630.5,0.963],[631.7,1.014],[632.8,1.005],[634,1.056],[635.1,1.037],[636.3,1.112],[637.4,1.112],[638.5,1.023],[639.7,1.023],[640.8,0.956],[642,0.991],[643.1,0.977],[644.3,1.019],[645.4,1.028],[646.6,1.053],[647.7,1.091],[648.9,1.053],[650,1.023],[651.2,1.012],[652.3,1.033],[653.5,1.044],[654.6,1.012],[655.7,1.019],[656.9,0.995],[658,0.988],[659.2,0.986],[660.3,0.974],[661.5,0.981],[662.6,0.958],[663.8,0.972],[664.9,0.995],[666.1,1.037],[667.2,1.047],[668.4,1.028],[669.5,1.005],[670.7,0.986],[671.8,0.991],[672.9,0.988],[674.1,0.986],[675.2,1.019],[676.4,1.074],[677.5,1.079],[678.7,1.074],[679.8,1.100],[681,1.100],[682.1,1.107],[683.3,1.112],[684.4,1.128],[685.6,1.112],[686.7,1.084],[687.8,1.065],[689,1.044],[690.1,1.042],[691.3,1.028],[692.4,0.984],[693.6,0.995],[694.7,1.000],[695.9,0.960],[697,0.937],[698.2,0.981],[699.3,0.972],[700.5,1.023],[701.6,1.060],[702.8,1.112],[703.9,1.123],[705.1,1.165],[706.2,1.160],[707.3,1.123],[708.5,1.088],[709.6,1.084],[710.8,1.053],[711.9,1.019],[713.1,0.984],[714.2,0.981],[715.4,0.986],[716.5,1.044],[717.7,0.972],[718.8,1.007],[720,1.002],[721.1,1.000],[722.2,0.972],[723.4,0.960],[724.5,0.942],[725.7,0.926],[726.8,0.905],[728,0.921],[729.1,0.919],[730.3,0.960],[731.4,0.995],[732.6,1.037],[733.7,1.088],[734.9,1.100],[736,1.109],[737.2,1.130],[738.3,1.100],[739.4,1.074],[740.6,1.051],[741.7,1.074],[742.9,1.084],[744,1.147],[745.2,1.190],[746.3,1.174],[747.5,1.147],[748.6,1.107],[749.8,1.019],[750.9,0.972],[752.1,0.965],[753.2,0.967],[754.4,0.995],[755.5,1.000],[756.6,1.000],[757.8,1.028],[758.9,1.033],[760.1,1.028],[761.2,1.000],[762.4,0.981],[763.5,0.986],[764.7,0.958],[765.8,0.942],[767,0.960],[768.1,0.953],[769.3,0.965],[770.4,0.963],[771.6,0.984],[772.7,0.991],[773.9,1.009],[775,1.033],[776.2,1.060],[777.3,1.088]
];

const panelLetters = ["A", "B", "C"];
const legendLabel = "Threshold";
const xAxisTitle = "Position";
const yAxisTitle = "Score";

// ---------- layout / styling ----------
const panels = [
  { data: scoresA, thr: thresholdA, xMax: 800, yMin: -2, yMax: 2.5, yStep: 0.5, digits: 1,
    grid: { left: 127, top: 38, width: 1131, height: 523 }, nameGap: 89, yLabelMargin: 10, yLabelSize: 15, legendTop: 45,
    letter: { box: [35, 28, 41, 39], x: 55, y: 47 } },
  { data: scoresB, thr: thresholdB, xMax: 780, yMin: 0, yMax: 6, yStep: 1, digits: 0,
    grid: { left: 88, top: 626, width: 1170, height: 525 }, nameGap: 50, yLabelMargin: 8, yLabelSize: 15, legendTop: 635,
    letter: { box: [21, 627, 42, 40], x: 41, y: 647 } },
  { data: scoresC, thr: thresholdC, xMax: 780, yMin: 0.85, yMax: 1.2, yStep: 0.05, digits: 2,
    grid: { left: 124, top: 1222, width: 1134, height: 523 }, nameGap: 86, yLabelMargin: 9, yLabelSize: 17, legendTop: 1230,
    letter: { box: [21, 1215, 42, 39], x: 41, y: 1234 } },
];

const FONT = "DejaVu Sans";
const GREEN = "#00c000";
const YELLOW = "#ffff00";
const BLUE = "#0000ff";
const RED = "#ff0000";

function buildOption() {
  const xAxes: any[] = [];
  const yAxes: any[] = [];
  const series: any[] = [];
  const visualMaps: any[] = [];
  const legends: any[] = [];
  const graphics: any[] = [];

  const frameLine = { show: true, onZero: false, lineStyle: { color: "#000", width: 1.5 } };
  const tick = { show: true, inside: true, length: 6, lineStyle: { color: "#000", width: 1 } };
  const minor = { show: true, splitNumber: 5, length: 3, lineStyle: { color: "#000", width: 1 } };

  panels.forEach((p, i) => {
    const xCommon = { gridIndex: i, type: "value", min: 0, max: p.xMax, interval: 20, z: 3 };
    xAxes.push({
      ...xCommon,
      position: "bottom",
      axisLine: frameLine,
      axisTick: tick,
      minorTick: minor,
      axisLabel: { show: true, fontSize: 14.5, color: "#000", fontFamily: FONT, margin: 4, showMinLabel: true, showMaxLabel: true, hideOverlap: false },
      splitLine: { show: true, lineStyle: { color: "#222", width: 1, type: [2, 5] } },
      name: i === 2 ? xAxisTitle : "",
      nameLocation: "middle",
      nameGap: 44,
      nameTextStyle: { fontSize: 24, color: "#000", fontFamily: FONT },
    });
    xAxes.push({
      ...xCommon,
      position: "top",
      axisLine: frameLine,
      axisTick: tick,
      minorTick: minor,
      axisLabel: { show: false },
      splitLine: { show: false },
    });
    const digits = p.digits;
    yAxes.push({
      gridIndex: i, type: "value", min: p.yMin, max: p.yMax, interval: p.yStep, z: 3,
      position: "left",
      axisLine: frameLine,
      axisTick: tick,
      axisLabel: {
        show: true, fontSize: p.yLabelSize, color: "#000", fontFamily: FONT, margin: p.yLabelMargin,
        showMinLabel: true, showMaxLabel: true,
        formatter: (v: number) => v.toFixed(digits).replace("-", "\u2212"),
      },
      splitLine: { show: true, lineStyle: { color: "#222", width: 1, type: [5, 7] } },
      name: yAxisTitle,
      nameLocation: "middle",
      nameRotate: 90,
      nameGap: p.nameGap,
      nameTextStyle: { fontSize: 19, color: "#000", fontFamily: FONT },
    });
    yAxes.push({
      gridIndex: i, type: "value", min: p.yMin, max: p.yMax, interval: p.yStep, z: 3,
      position: "right",
      axisLine: frameLine,
      axisTick: tick,
      axisLabel: { show: false },
      splitLine: { show: false },
    });

    const fillIndex = series.length;
    series.push({
      type: "line",
      name: "fill" + i,
      xAxisIndex: 2 * i,
      yAxisIndex: 2 * i,
      data: p.data,
      showSymbol: false,
      silent: true,
      lineStyle: { width: 0 },
      areaStyle: { origin: p.thr, opacity: 1 },
      z: 1,
    });
    series.push({
      type: "line",
      name: "score" + i,
      xAxisIndex: 2 * i,
      yAxisIndex: 2 * i,
      data: p.data,
      showSymbol: false,
      silent: true,
      color: BLUE,
      lineStyle: { color: BLUE, width: 2.5 },
      z: 2,
    });
    series.push({
      type: "line",
      name: legendLabel,
      xAxisIndex: 2 * i,
      yAxisIndex: 2 * i,
      data: [[0, p.thr], [p.xMax, p.thr]],
      showSymbol: false,
      silent: true,
      color: RED,
      lineStyle: { color: RED, width: 2.5 },
      z: 2,
    });
    const span = p.yMax - p.yMin;
    visualMaps.push({
      type: "piecewise",
      show: false,
      seriesIndex: fillIndex,
      dimension: 1,
      pieces: [
        { min: p.yMin - span, max: p.thr, color: GREEN },
        { min: p.thr, max: p.yMax + span, color: YELLOW },
      ],
      outOfRange: { color: GREEN },
    });
    legends.push({
      data: [legendLabel],
      left: 1061,
      top: p.legendTop,
      icon: "rect",
      itemWidth: 35,
      itemHeight: 3,
      backgroundColor: "#fff",
      borderColor: "#000",
      borderWidth: 2,
      borderRadius: 0,
      padding: [7, 15, 7, 12],
      selectedMode: false,
      textStyle: { fontSize: 20, color: "#3a3a3a", fontFamily: FONT, padding: [0, 0, 0, 21] },
      z: 10,
    });
    const [bx, by, bw, bh] = p.letter.box;
    graphics.push({
      type: "rect",
      shape: { x: bx, y: by, width: bw, height: bh },
      style: { fill: "#fff" },
      z: 20,
    });
    graphics.push({
      type: "text",
      x: p.letter.x,
      y: p.letter.y,
      style: {
        text: panelLetters[i],
        font: 'bold 40px "Liberation Serif"',
        fill: "#000",
        textAlign: "center",
        textVerticalAlign: "middle",
        align: "center",
        verticalAlign: "middle",
      },
      z: 21,
    });
  });

  return {
    animation: false,
    backgroundColor: "#ebebeb",
    textStyle: { fontFamily: FONT },
    grid: panels.map((p) => ({ ...p.grid, show: true, backgroundColor: "#fff", borderWidth: 0 })),
    xAxis: xAxes,
    yAxis: yAxes,
    visualMap: visualMaps,
    legend: legends,
    series,
    graphic: graphics,
  };
}

export default function App() {
  const ref = useRef<HTMLDivElement | null>(null);
  useEffect(() => {
    if (!ref.current) return;
    const chart = echarts.init(ref.current, undefined, { renderer: "svg" });
    chart.setOption(buildOption() as any);
    return () => chart.dispose();
  }, []);
  return (
    <div
      ref={ref}
      style={{ position: "absolute", left: 0, top: 0, width: 1305, height: 1805 }}
    />
  );
}
